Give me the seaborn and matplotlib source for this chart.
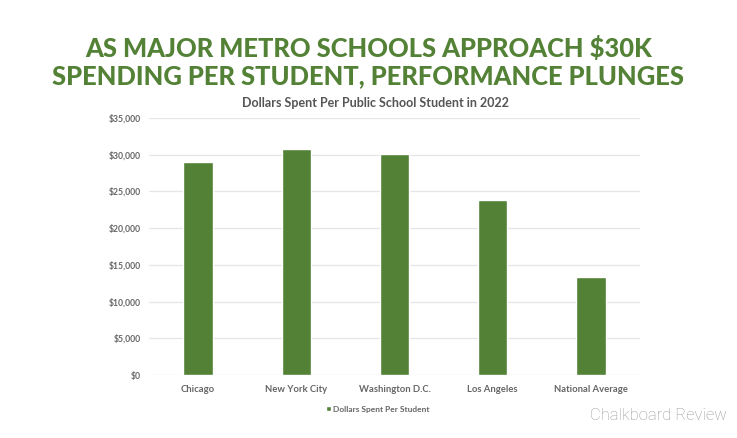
import pandas as pd
import matplotlib
matplotlib.use("Agg")
import matplotlib.pyplot as plt
import seaborn as sns
from matplotlib.ticker import FuncFormatter

cities = ["Chicago", "New York City", "Washington D.C.", "Los Angeles", "National Average"]
spending = [29000, 30750, 30050, 23900, 13400]
series_name = "Dollars Spent Per Student"
y_ticks = [0, 5000, 10000, 15000, 20000, 25000, 30000, 35000]

GREEN = "#538135"

df = pd.DataFrame({"city": cities, "spending": spending, "series": series_name})

sns.set_theme(style="white")
plt.rcParams["font.family"] = ["Lato", "DejaVu Sans"]

fig = plt.figure(figsize=(7.37, 4.38), dpi=100)
ax = fig.add_axes([149 / 737, 1 - 375 / 438, 491 / 737, 257 / 438])

sns.barplot(data=df, x="city", y="spending", hue="series", palette=[GREEN],
            width=0.3, dodge=False, ax=ax, saturation=1)

ax.set_ylim(0, 35000)
ax.set_yticks(y_ticks)
ax.yaxis.set_major_formatter(FuncFormatter(lambda v, p: f"${v:,.0f}"))
ax.grid(axis="y", color="#e6e6e6", linewidth=0.9)
ax.set_axisbelow(True)
for s in ax.spines.values():
    s.set_visible(False)
ax.set_xlabel("")
ax.set_ylabel("")
ax.tick_params(axis="y", length=0, pad=6, labelsize=6.2, labelcolor="#666666")
ax.tick_params(axis="x", length=0, pad=7, labelsize=6.8, labelcolor="#666666")
for t in ax.get_yticklabels() + ax.get_xticklabels():
    t.set_fontweight("bold")

ax.legend(loc="upper center", bbox_to_anchor=(0.466, -0.09), frameon=False,
          handlelength=0.6, handleheight=0.6, handletextpad=0.3,
          labelcolor="#666666", prop={"weight": "bold", "size": 6})

fig.text(0.5, 1 - 48 / 438, "AS MAJOR METRO SCHOOLS APPROACH $30K", ha="center", va="center",
         color=GREEN, fontsize=18.4, fontweight="black")
fig.text(0.5, 1 - 76 / 438, "SPENDING PER STUDENT, PERFORMANCE PLUNGES", ha="center", va="center",
         color=GREEN, fontsize=18.4, fontweight="black")
fig.text(375 / 737, 1 - 103 / 438, "Dollars Spent Per Public School Student in 2022", ha="center",
         va="center", color="#555555", fontsize=9, fontweight="bold")
fig.text(727 / 737, 1 - 415 / 438, "Chalkboard Review", ha="right", va="center",
         color="#999999", fontsize=12, family=["Roboto", "DejaVu Sans"], fontweight="light")

fig.savefig("out.png", dpi=100)
